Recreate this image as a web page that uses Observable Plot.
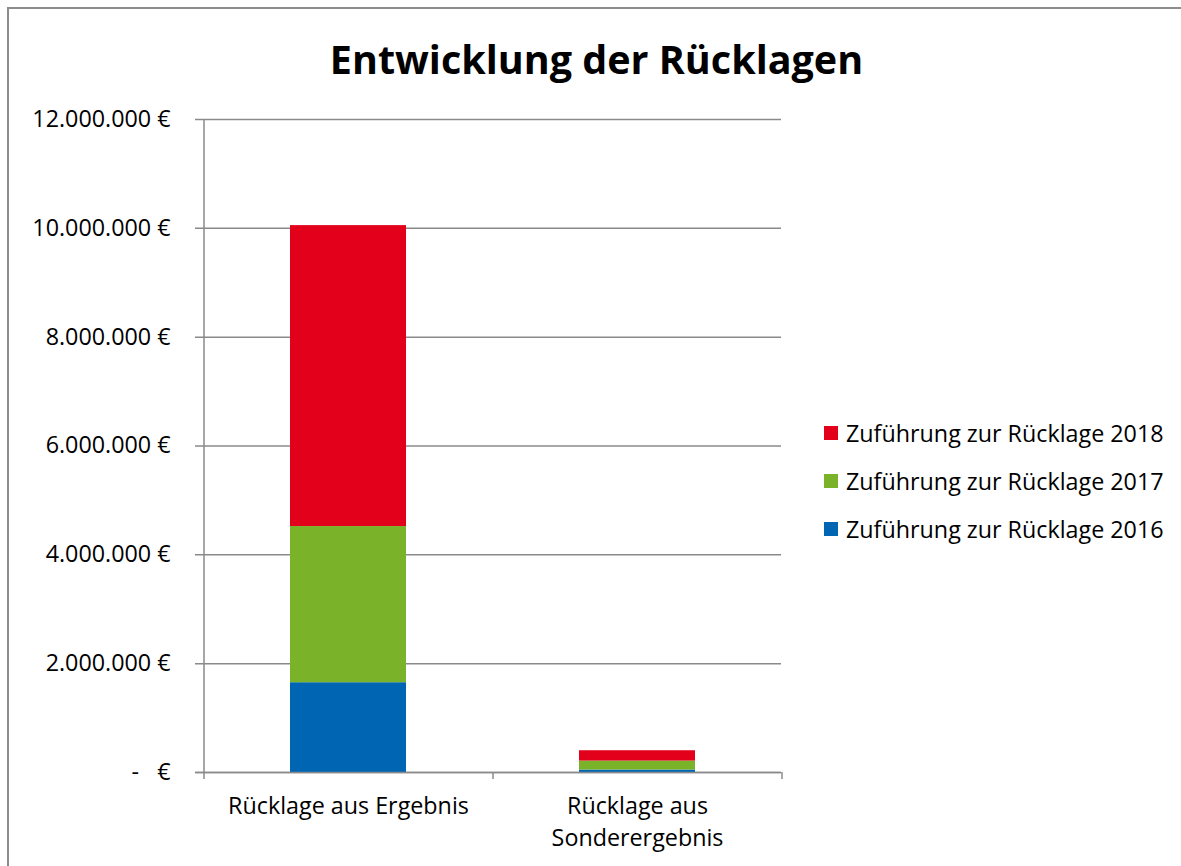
<!DOCTYPE html>
<html>
<head>
<meta charset="utf-8">
<script src="https://cdn.jsdelivr.net/npm/d3@7"></script>
<script src="https://cdn.jsdelivr.net/npm/@observablehq/plot@0.6"></script>
<style>
  html, body { margin: 0; padding: 0; background: #fff; }
  #wrap { position: relative; width: 1181px; height: 866px; overflow: hidden; font-family: "Open Sans", sans-serif; }
  #border { position: absolute; left: 7px; top: 7px; width: 1200px; height: 900px; border-left: 2px solid #8c8c8c; border-top: 2px solid #8c8c8c; }
  #title { position: absolute; left: 6px; top: 34px; width: 1181px; text-align: center; font-weight: bold; font-size: 39.5px; line-height: 50px; color: #000; }
  #chart { position: absolute; left: 0; top: 0; }
  #legend { position: absolute; left: 824px; top: 409px; }
  .item { display: flex; align-items: center; height: 48px; font-size: 23.3px; color: #000; white-space: nowrap; }
  .sw { width: 14px; height: 14px; margin-right: 8px; flex: none; }
</style>
</head>
<body>
<div id="wrap">
  <div id="border"></div>
  <div id="title">Entwicklung der Rücklagen</div>
  <div id="chart"></div>
  <div id="legend"></div>
</div>
<script>
const categories = ["Rücklage aus Ergebnis", "Rücklage aus Sonderergebnis"];
const seriesNames = ["Zuführung zur Rücklage 2016", "Zuführung zur Rücklage 2017", "Zuführung zur Rücklage 2018"];
const values2016 = [1650000, 45000];
const values2017 = [2870000, 165000];
const values2018 = [5530000, 190000];
const yTicks = [0, 2000000, 4000000, 6000000, 8000000, 10000000, 12000000];
const colors = ["#0066B3", "#7AB32A", "#E2001A"];

const seriesValues = [values2016, values2017, values2018];
const data = seriesNames.flatMap((s, si) =>
  categories.map((c, ci) => ({category: c, series: s, value: seriesValues[si][ci]}))
);

const deLocale = d3.formatLocale({decimal: ",", thousands: ".", grouping: [3], currency: ["", " €"]});
const fmtNum = deLocale.format(",.0f");
const fmt = d => d === 0 ? "-\u00a0\u00a0\u00a0€" : fmtNum(d) + " €";

const W = 1181, H = 866, mL = 203, mR = 400, mT = 119, mB = 94;
const step = (W - mL - mR) / categories.length;
const grid = "#8a8a8a";

const chart = Plot.plot({
  width: W, height: H,
  marginTop: mT, marginBottom: mB, marginLeft: mL, marginRight: mR,
  style: {fontFamily: "Open Sans, sans-serif", fontSize: "23.3px", color: "#000", background: "transparent"},
  x: {domain: categories, paddingInner: 0.6, paddingOuter: 0.3},
  y: {domain: [0, 12000000]},
  color: {domain: seriesNames, range: colors},
  marks: [
    Plot.ruleY(yTicks, {stroke: grid, strokeWidth: 1.5, insetLeft: -8}),
    Plot.barY(data, {x: "category", y: "value", fill: "series"}),
    Plot.ruleY([0], {stroke: grid, strokeWidth: 1.5, insetLeft: -8}),
    Plot.ruleX([categories[0]], {dx: -step / 2, stroke: grid, strokeWidth: 1.5}),
    Plot.ruleX(categories, {y1: 0, y2: 0, insetBottom: -7, dx: -step / 2, stroke: grid, strokeWidth: 1.5}),
    Plot.ruleX([categories[categories.length - 1]], {y1: 0, y2: 0, insetBottom: -7, dx: step / 2, stroke: grid, strokeWidth: 1.5}),
    Plot.axisY(yTicks, {tickSize: 0, tickPadding: 33, tickFormat: fmt, label: null}),
    Plot.axisX({tickSize: 0, tickPadding: 19, lineWidth: 11, lineHeight: 1.38, label: null})
  ]
});
document.getElementById("chart").appendChild(chart);

const legend = document.getElementById("legend");
for (let i = seriesNames.length - 1; i >= 0; i--) {
  const item = document.createElement("div");
  item.className = "item";
  const sw = document.createElement("span");
  sw.className = "sw";
  sw.style.background = colors[i];
  const t = document.createElement("span");
  t.textContent = seriesNames[i];
  item.appendChild(sw);
  item.appendChild(t);
  legend.appendChild(item);
}
</script>
</body>
</html>
